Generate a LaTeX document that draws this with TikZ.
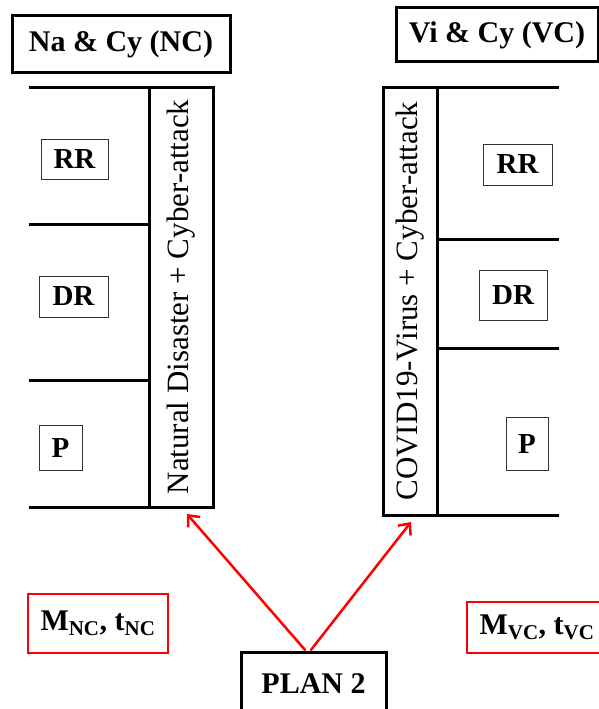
\documentclass[tikz,border=0pt]{standalone}
\usepackage{fontspec}
\setmainfont{Liberation Serif}
\usetikzlibrary{arrows.meta}
\begin{document}
\begin{tikzpicture}[x=1pt,y=-1pt]
	\tikzset{heading/.style={draw, line width=3pt, inner sep=0pt, font=\fontsize{30}{36}\selectfont\bfseries}}
	\tikzset{band/.style={draw, line width=3pt, rotate=90, inner sep=0pt, font=\fontsize{31}{36}\selectfont}}
	\tikzset{phase/.style={draw=black!80, line width=0.8pt, inner sep=0pt, font=\fontsize{29}{34}\selectfont\bfseries}}
	\tikzset{cost/.style={draw=red, line width=2.5pt, inner sep=0pt, font=\fontsize{30}{36}\selectfont\bfseries}}
	\tikzset{shelf/.style={line width=3pt}}
	\tikzset{arrow/.style={draw=red, line width=2.5pt, -{Straight Barb[length=9pt, width=16pt]}}}
	\clip (0,0) rectangle (599,709);

	\node[heading, minimum width=218pt, minimum height=56pt] (nctitle) at (121,44) {Na \& Cy (NC)};
	\node[heading, minimum width=202pt, minimum height=54pt] (vctitle) at (497,35) {Vi \& Cy (VC)};

	\node[band, minimum width=420pt, minimum height=64pt] (ncband) at (181,297) {Natural Disaster + Cyber-attack};
	\node[band, minimum width=428pt, minimum height=54pt] (vcband) at (410,301) {COVID19-Virus + Cyber-attack};

	\foreach \y in {87,224,380,507}
		\draw[shelf] (29,\y) -- (149,\y);
	\foreach \y in {87,239,348,515}
		\draw[shelf] (437,\y) -- (559,\y);

	\node[phase, minimum width=67pt, minimum height=40pt] (ncrr) at (74.5,159) {RR};
	\node[phase, minimum width=69pt, minimum height=41pt] (ncdr) at (73.5,296.5) {DR};
	\node[phase, minimum width=43pt, minimum height=45pt] (ncp) at (60.5,447.5) {P};
	\node[phase, minimum width=69pt, minimum height=41pt] (vcrr) at (517.5,164.5) {RR};
	\node[phase, minimum width=68pt, minimum height=50pt] (vcdr) at (513,295) {DR};
	\node[phase, minimum width=42pt, minimum height=53pt] (vcp) at (527,443.5) {P};

	\node[cost, minimum width=140pt, minimum height=59pt] (ncmt) at (98,623.5) {M\textsubscript{NC}, t\textsubscript{NC}};
	\node[cost, minimum width=140pt, minimum height=51pt] (vcmt) at (537,627.5) {M\textsubscript{VC}, t\textsubscript{VC}};

	\node[heading, minimum width=145pt, minimum height=64pt] (plan) at (313.5,684) {PLAN 2};

	\coordinate (ncfoot) at (187,514);
	\coordinate (vcfoot) at (411,522);
	\draw[arrow] ([xshift=-8pt]plan.north) -- (ncfoot);
	\draw[arrow] ([xshift=-3pt]plan.north) -- (vcfoot);
\end{tikzpicture}
\end{document}
